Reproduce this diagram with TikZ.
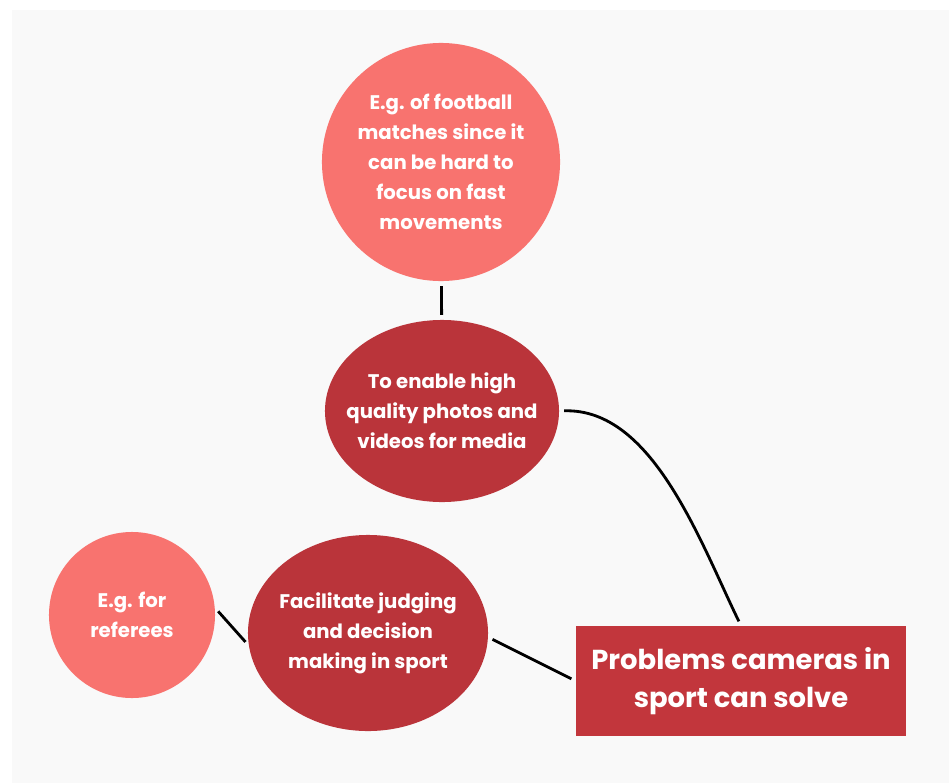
\documentclass[tikz,border=0pt]{standalone}
\usepackage{fontspec}
\setmainfont{Poppins}
\usetikzlibrary{shapes.geometric}

\definecolor{lightred}{HTML}{F8736F}
\definecolor{darkred}{HTML}{BA343A}
\definecolor{boxred}{HTML}{C2363C}
\definecolor{panel}{HTML}{F9F9F9}

\begin{document}
\begin{tikzpicture}[x=0.025cm, y=-0.025cm,
    example/.style = {circle, fill=lightred, inner sep=0pt},
    reason/.style = {ellipse, fill=darkred, inner sep=0pt},
    txt/.style = {text=white, font=\bfseries\fontsize{14}{21.3}\selectfont, align=center},
    link/.style = {line width=2pt, shorten <=0.12cm, shorten >=0.12cm}]
    \useasboundingbox (0,0) rectangle (949,783);
    \fill[white] (0,0) rectangle (949,783);
    \fill[panel] (12,10) rectangle (949,783);

    \node[fill=boxred, minimum width=8.25cm, minimum height=2.75cm, text=white,
          font=\bfseries\fontsize{19.5}{27.5}\selectfont, align=center] (0) at (741,681)
          {Problems cameras in\\sport can solve};
    \node[reason, minimum width=5.85cm, minimum height=4.55cm] (1) at (442,411)
          [label={[txt]center:To enable high\\quality photos and\\videos for media}] {};
    \node[example, minimum size=5.95cm] (2) at (441,162)
          [label={[txt]center:E.g. of football\\matches since it\\can be hard to\\focus on fast\\movements}] {};
    \node[reason, minimum width=6cm, minimum height=4.9cm] (3) at (368,633)
          [label={[txt]center:Facilitate judging\\and decision\\making in sport}] {};
    \node[example, minimum size=4.15cm] (4) at (132,615)
          [label={[txt]center:E.g. for\\referees}] {};

    \draw[link] (2) -- (1);
    \draw[link] (1.east) to [out=2,in=116,looseness=0.85] (0.north);
    \draw[link] (3.-2) -- (0.west);
    \draw[link] (4.5) -- (3.186);
\end{tikzpicture}
\end{document}
